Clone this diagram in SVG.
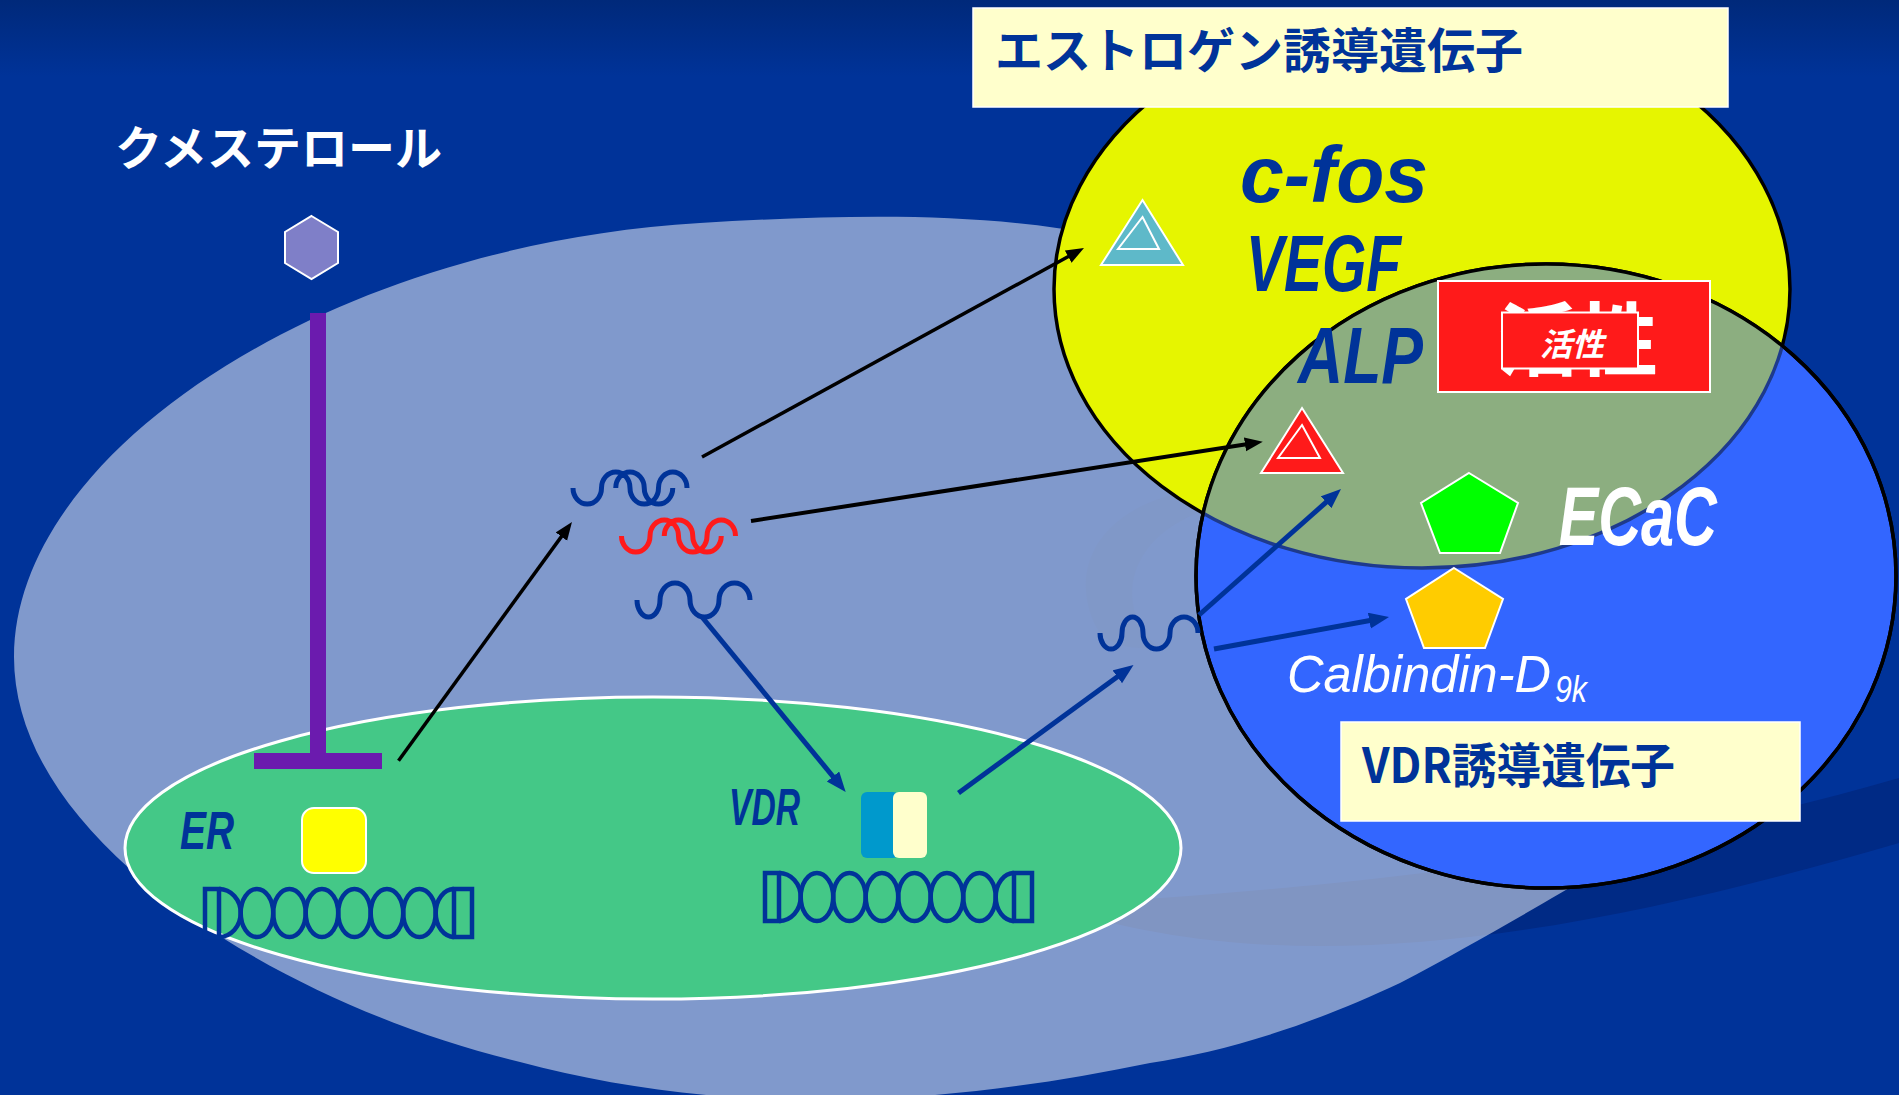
<svg xmlns="http://www.w3.org/2000/svg" width="1899" height="1095" viewBox="0 0 1899 1095">
  <defs>
    <linearGradient id="bgTop" x1="0" y1="0" x2="0" y2="1">
      <stop offset="0" stop-color="#00297a"/>
      <stop offset="0.07" stop-color="#003399"/>
      <stop offset="1" stop-color="#003399"/>
    </linearGradient>
    <clipPath id="clipBlue">
      <ellipse cx="1546" cy="576" rx="350" ry="312"/>
    </clipPath>
    <marker id="ahBlack" markerUnits="userSpaceOnUse" markerWidth="20" markerHeight="16" refX="8" refY="7" orient="auto">
      <path d="M0,0 L18,7 L0,14 Z" fill="#000"/>
    </marker>
    <marker id="ahBlue" markerUnits="userSpaceOnUse" markerWidth="22" markerHeight="18" refX="9" refY="8" orient="auto">
      <path d="M0,0 L20,8 L0,16 Z" fill="#003399"/>
    </marker>
    <!-- DNA ladder drawn in local coordinates (272 x 52) -->
    <g id="dna" fill="none" stroke="#003399" stroke-width="4.5">
      <rect x="2" y="2" width="14" height="48"/>
      <path d="M16,2 A21.7,24 0 0 1 16,50"/>
      <ellipse cx="53.95" cy="26" rx="16.25" ry="24"/>
      <ellipse cx="86.45" cy="26" rx="16.25" ry="24"/>
      <ellipse cx="118.95" cy="26" rx="16.25" ry="24"/>
      <ellipse cx="151.45" cy="26" rx="16.25" ry="24"/>
      <ellipse cx="183.95" cy="26" rx="16.25" ry="24"/>
      <ellipse cx="216.45" cy="26" rx="16.25" ry="24"/>
      <path d="M251,2 A18.3,24 0 0 0 251,50"/>
      <rect x="251" y="2" width="18" height="48"/>
    </g>
    <!-- looped transcript strand: a wave with an overlapping offset wave -->
    <path id="loopy" fill="none" stroke-width="5"
      d="M573,488 A14.25,16 0 0 0 601.5,488 A14.25,16 0 0 1 630,488 A14.25,16 0 0 0 658.5,488 A14.25,16 0 0 1 687,488 M615.75,488 A14.25,16 0 0 1 644.25,488 A14.25,16 0 0 0 672.75,488"/>
  </defs>
  <style>
    .jp { font-family: 'Noto Sans CJK JP', sans-serif; font-weight: bold; }
    .lat { font-family: 'Liberation Sans', Arial, sans-serif; font-weight: bold; font-style: italic; }
    .navy { fill: #003399; }
    .white { fill: #ffffff; }
    .conn-black { stroke: #000; fill: none; marker-end: url(#ahBlack); }
    .conn-blue { stroke: #003399; stroke-width: 5; fill: none; marker-end: url(#ahBlue); }
    .box { fill: #ffffcc; stroke: #ffffff; stroke-width: 1.5; }
    .shape { stroke: #ffffff; stroke-width: 2; }
  </style>

  <!-- background -->
  <rect x="0" y="0" width="1899" height="1095" fill="url(#bgTop)"/>
  <path d="M1899,778 C1650,850 1400,885 1050,905 C1300,990 1600,930 1899,843 Z" fill="#002a85"/>
  <path d="M1200,490 C1110,500 1065,560 1095,625 C1105,645 1130,650 1160,648 C1120,620 1115,545 1200,512 Z" fill="#00287a" opacity="0.25"/>

  <!-- cell body -->
  <path id="cell" d="M14,657 C14,450 330,245 700,223 C850,214 980,212 1100,235 C1400,300 1800,700 1650,840 C1600,870 1500,930 1400,983 C1300,1030 1220,1052 1150,1063 C900,1115 700,1110 520,1062 C300,1010 14,850 14,657 Z" fill="#ffffff" fill-opacity="0.5"/>

  <!-- nucleus -->
  <ellipse id="nucleus" cx="653" cy="848" rx="528" ry="151" fill="#44c887" stroke="#ffffff" stroke-width="3"/>

  <!-- gene sets -->
  <g id="gene-sets">
    <ellipse cx="1422" cy="289" rx="368" ry="279" fill="#e6f500" stroke="#000" stroke-width="3.5"/>
    <ellipse cx="1546" cy="576" rx="350" ry="312" fill="#3366ff" stroke="#000" stroke-width="3.5"/>
    <ellipse cx="1422" cy="289" rx="368" ry="279" fill="#8cae80" clip-path="url(#clipBlue)"/>
    <ellipse cx="1422" cy="289" rx="368" ry="279" fill="none" stroke="#1e3a8c" stroke-width="3.5" clip-path="url(#clipBlue)"/>
    <ellipse cx="1546" cy="576" rx="350" ry="312" fill="none" stroke="#000" stroke-width="3.5"/>
  </g>

  <g id="estrogen-label">
    <rect class="box" x="973" y="8" width="755" height="99"/>
    <text class="jp navy" x="995" y="68" font-size="48">エストロゲン誘導遺伝子</text>
  </g>

  <g id="vdr-gene-label">
    <rect class="box" x="1341" y="722" width="459" height="99"/>
    <text class="jp navy" x="1362" y="783" font-size="48" textLength="313" lengthAdjust="spacingAndGlyphs">VDR誘導遺伝子</text>
  </g>

  <!-- ligand -->
  <g id="kumesterol">
    <text class="jp white" x="115" y="165" font-size="47">クメステロール</text>
    <polygon class="shape" points="311.5,216 338,232 338,263 311.5,279 285,263 285,232" fill="#7f7fc8"/>
  </g>

  <g id="inhibitor">
    <rect x="310" y="313" width="16" height="448" fill="#6b1bae"/>
    <rect x="254" y="753" width="128" height="16" fill="#6b1bae"/>
  </g>

  <!-- estrogen receptor -->
  <g id="er">
    <text class="lat navy" x="180" y="849" font-size="54" textLength="54" lengthAdjust="spacingAndGlyphs">ER</text>
    <rect x="302" y="808" width="64" height="65" rx="12" fill="#ffff00" stroke="#ffffff" stroke-width="2"/>
    <use href="#dna" x="203" y="887"/>
  </g>

  <!-- vitamin D receptor -->
  <g id="vdr">
    <text class="lat navy" x="729" y="825" font-size="52" textLength="71" lengthAdjust="spacingAndGlyphs">VDR</text>
    <rect x="861" y="792" width="38" height="66" rx="6" fill="#0099cc"/>
    <rect x="893" y="792" width="34" height="66" rx="6" fill="#ffffcc"/>
    <use href="#dna" x="763" y="871"/>
  </g>

  <!-- transcripts -->
  <g id="mrna-er">
    <use href="#loopy" stroke="#003399"/>
  </g>
  <g id="mrna-alp">
    <use href="#loopy" stroke="#ff1a1a" transform="translate(48.5,48)"/>
  </g>
  <g id="mrna-vdr">
    <path d="M637,600 A11.5,17 0 0 0 660,600 A15,17 0 0 1 690,600 A14.5,17 0 0 0 719,600 A15.5,17 0 0 1 750,600" fill="none" stroke="#003399" stroke-width="5"/>
  </g>
  <g id="mrna-target">
    <path d="M1100,633 A11,16 0 0 0 1122,633 A10.5,16 0 0 1 1143,633 A13.5,16 0 0 0 1170,633 A14,16 0 0 1 1198,633" fill="none" stroke="#003399" stroke-width="5"/>
  </g>

  <!-- gene products -->
  <g id="cfos-vegf">
    <polygon class="shape" points="1142.5,200 1183,265 1101,265" fill="#5eb9c9"/>
    <polygon points="1142.5,217 1159,249 1118,249" fill="none" stroke="#ffffff" stroke-width="2"/>
    <text class="lat navy" x="1240" y="201.7" font-size="80" textLength="188" lengthAdjust="spacingAndGlyphs">c-fos</text>
    <text class="lat navy" x="1246" y="290.7" font-size="80" textLength="155" lengthAdjust="spacingAndGlyphs">VEGF</text>
  </g>

  <g id="alp">
    <text class="lat navy" x="1298" y="383.3" font-size="80" textLength="125" lengthAdjust="spacingAndGlyphs">ALP</text>
    <polygon class="shape" points="1302,408 1343,473 1261,473" fill="#ff1a1a"/>
    <polygon points="1302,425 1320,458 1278,458" fill="none" stroke="#ffffff" stroke-width="2"/>
  </g>

  <g id="activity">
    <rect x="1438" y="281" width="272" height="111" fill="#ff1a1a" stroke="#ffffff" stroke-width="2"/>
    <text class="jp white" x="1498" y="369" font-size="80">活性</text>
    <rect x="1502" y="312.5" width="136" height="56" fill="#ff1a1a" stroke="#ffffff" stroke-width="2"/>
    <text class="jp white" x="1572" y="356" font-size="32" font-style="italic" text-anchor="middle">活性</text>
  </g>

  <g id="ecac">
    <polygon class="shape" points="1469,473 1518,503 1500,553 1440,553 1421,503" fill="#00ff00"/>
    <text class="lat white" x="1558.7" y="545" font-size="83" textLength="158" lengthAdjust="spacingAndGlyphs">ECaC</text>
  </g>

  <g id="calbindin">
    <polygon class="shape" points="1454,568 1503,599 1485,648 1424,648 1406,599" fill="#ffcc00"/>
    <text class="white" x="1287" y="692" font-size="52" font-style="italic" font-family="'Liberation Sans', Arial, sans-serif" textLength="264" lengthAdjust="spacingAndGlyphs">Calbindin-D</text>
    <text class="white" x="1555" y="702" font-size="36" font-style="italic" font-family="'Liberation Sans', Arial, sans-serif" textLength="32" lengthAdjust="spacingAndGlyphs">9k</text>
  </g>

  <!-- connectors -->
  <g id="connectors">
    <line class="conn-black" x1="398.5" y1="760.7" x2="566.1" y2="530.1" stroke-width="3.5"/>
    <line class="conn-black" x1="702" y1="457" x2="1075.2" y2="252.8" stroke-width="3.5"/>
    <line class="conn-black" x1="751" y1="521" x2="1252.9" y2="443.2" stroke-width="4"/>
    <line class="conn-blue" x1="702" y1="617" x2="838.7" y2="783.5"/>
    <line class="conn-blue" x1="958.5" y1="793" x2="1124.6" y2="671.5"/>
    <line class="conn-blue" x1="1199" y1="615" x2="1332.8" y2="496.3"/>
    <line class="conn-blue" x1="1214" y1="649" x2="1378.2" y2="619"/>
  </g>
</svg>
